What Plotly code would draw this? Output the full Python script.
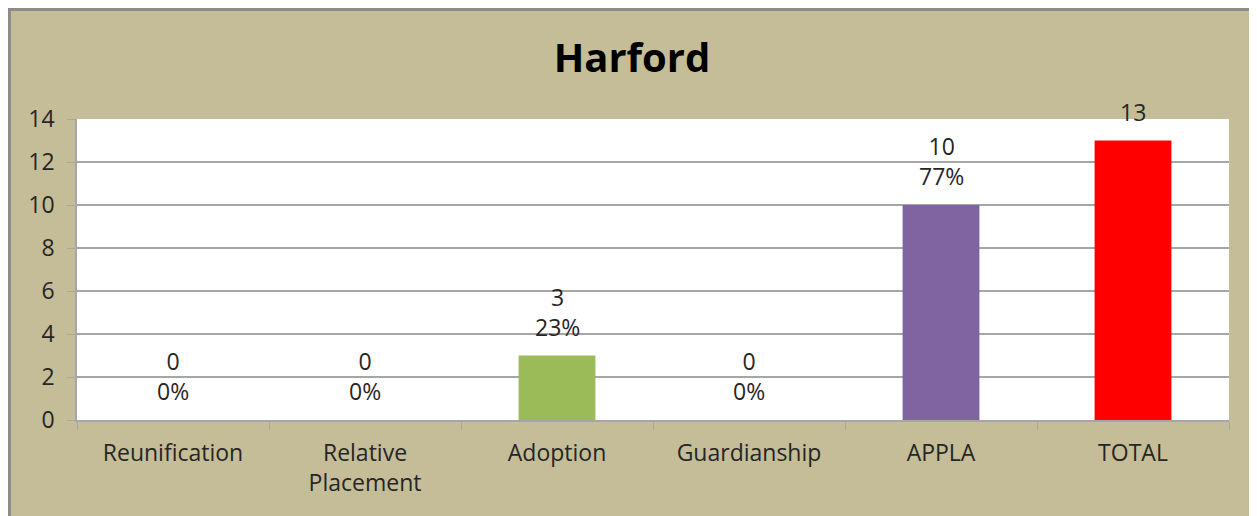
import plotly.graph_objects as go

# Data.
categories = ["Reunification", "Relative<br>Placement", "Adoption", "Guardianship", "APPLA", "TOTAL"]
counts = [0, 0, 3, 0, 10, 13]
shares = ["0%", "0%", "23%", "0%", "77%", ""]
colors = ["#9BBB59", "#9BBB59", "#9BBB59", "#9BBB59", "#8064A2", "#FF0000"]

FONT = "Open Sans"
BG = "#C4BD97"
GRID = "#A6A6A6"

# The page body adds an 8px margin, so the figure starts at (8, 8).
W, H = 1257, 516
M = dict(l=69, r=36, t=111, b=104)
pw = W - M["l"] - M["r"]
ph = H - M["t"] - M["b"]


def main():
    fig = go.Figure(go.Bar(
        x=categories,
        y=counts,
        marker=dict(color=colors, line=dict(width=0)),
        width=0.4,
        hoverinfo="x+y",
    ))

    # Data labels: count over share, sitting above each bar.
    for cat, n, pct in zip(categories, counts, shares):
        text = f"{n}<br>{pct}" if pct else f"{n}"
        fig.add_annotation(
            x=cat, y=n, text=text, showarrow=False,
            yanchor="bottom", yshift=11,
            font=dict(family=FONT, size=23, color="#262626"),
        )

    # Grey frame round the chart area.
    fig.add_shape(type="rect", xref="paper", yref="paper", layer="below",
                  x0=(1.5 - M["l"]) / pw, x1=1.1, y0=-0.6, y1=1 + (M["t"] - 1.5) / ph,
                  line=dict(color="#8C8C8C", width=3))

    fig.update_layout(
        width=W, height=H, margin=M,
        paper_bgcolor=BG, plot_bgcolor="white",
        showlegend=False,
        font=dict(family=FONT, size=23, color="#262626"),
        title=dict(text="<b>Harford</b>", x=624 / W, xanchor="center",
                   y=1 - 50 / H, yanchor="middle",
                   font=dict(family=FONT, size=40, color="black")),
    )
    fig.update_xaxes(
        showline=True, linecolor=GRID, linewidth=1.5,
        ticks="outside", tickson="boundaries", ticklen=8, tickcolor=GRID,
        showgrid=False, tickfont=dict(size=23), ticklabelstandoff=12,
    )
    fig.update_yaxes(
        range=[0, 14], dtick=2, showline=True, linecolor=GRID, linewidth=1.5,
        showgrid=True, gridcolor=GRID, gridwidth=1.5,
        ticks="outside", ticklen=8, tickcolor=GRID, zeroline=False,
        tickfont=dict(size=23), ticklabelstandoff=8,
    )
    fig.write_html("out.html")


if __name__ == "__main__":
    main()
